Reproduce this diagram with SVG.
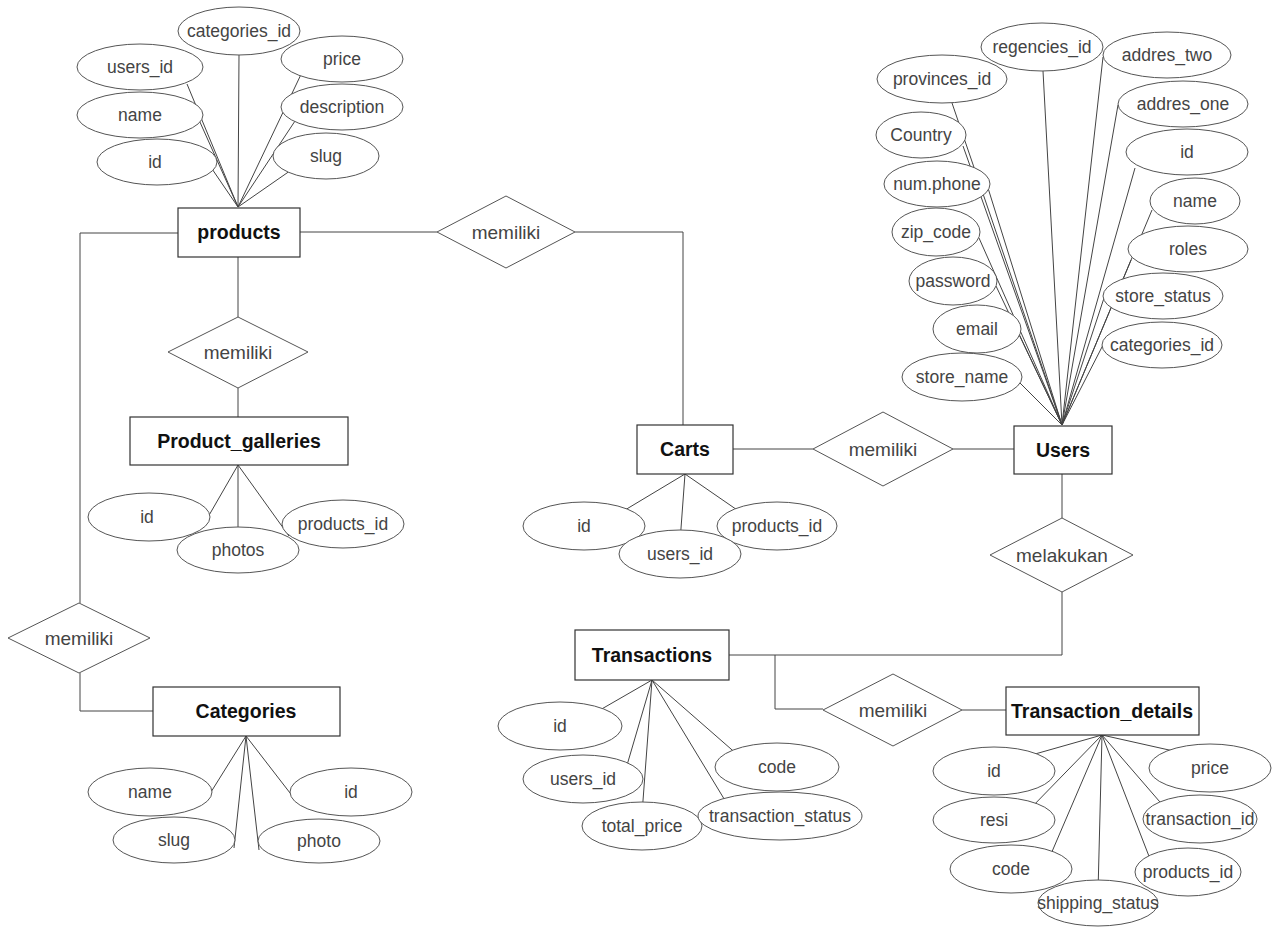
<svg xmlns="http://www.w3.org/2000/svg" width="1274" height="927" viewBox="0 0 1274 927">
<style>
.ent rect{fill:#fff;stroke:#333;stroke-width:1.2}
.ent text{font-family:"Liberation Sans",Arial,sans-serif;font-size:19.5px;font-weight:bold;fill:#111;text-anchor:middle}
.rel polygon{fill:#fff;stroke:#555;stroke-width:1}
.rel text{font-family:"Liberation Sans",Arial,sans-serif;font-size:19px;fill:#444;text-anchor:middle}
.att ellipse{fill:#fff;stroke:#555;stroke-width:1}
.att text{font-family:"Liberation Sans",Arial,sans-serif;font-size:17.5px;fill:#444;text-anchor:middle}
#connectors path,#connectors line{fill:none;stroke:#444;stroke-width:1}
</style>
<rect width="1274" height="927" fill="#fff"/>
<g id="connectors">
<path d="M178,233 H80 V603"/>
<path d="M80,673 V711 H153"/>
<path d="M300,232 H437"/>
<path d="M575,232 H683 V425"/>
<path d="M238,257 V317"/>
<path d="M238,388 V417"/>
<path d="M733,449 H813"/>
<path d="M953,449 H1014"/>
<path d="M1062,474 V518"/>
<path d="M1062,592 V655 H729"/>
<path d="M775,655 V709 H823"/>
<path d="M962,710 H1006"/>
<line x1="239" y1="55" x2="238" y2="207"/>
<line x1="187" y1="84" x2="238" y2="207"/>
<line x1="195" y1="111" x2="238" y2="207"/>
<line x1="208" y1="163" x2="238" y2="207"/>
<line x1="305" y1="66" x2="238" y2="207"/>
<line x1="297" y1="118" x2="238" y2="207"/>
<line x1="297" y1="166" x2="238" y2="207"/>
<line x1="1043" y1="71" x2="1062" y2="425"/>
<line x1="1103" y1="57" x2="1062" y2="425"/>
<line x1="1118" y1="105" x2="1062" y2="425"/>
<line x1="1135" y1="168" x2="1062" y2="425"/>
<line x1="1152" y1="210" x2="1062" y2="425"/>
<line x1="1131" y1="260" x2="1062" y2="425"/>
<line x1="1104" y1="298" x2="1062" y2="425"/>
<line x1="1103" y1="345" x2="1062" y2="425"/>
<line x1="952" y1="103" x2="1062" y2="425"/>
<line x1="963" y1="146" x2="1062" y2="425"/>
<line x1="988" y1="188" x2="1062" y2="425"/>
<line x1="979" y1="238" x2="1062" y2="425"/>
<line x1="996" y1="286" x2="1062" y2="425"/>
<line x1="1019" y1="334" x2="1062" y2="425"/>
<line x1="1019" y1="382" x2="1062" y2="425"/>
<line x1="238" y1="465" x2="204" y2="524"/>
<line x1="238" y1="465" x2="238" y2="539"/>
<line x1="238" y1="465" x2="289" y2="536"/>
<line x1="246" y1="736" x2="206" y2="800"/>
<line x1="246" y1="736" x2="234" y2="848"/>
<line x1="246" y1="736" x2="259" y2="850"/>
<line x1="246" y1="736" x2="297" y2="802"/>
<line x1="685" y1="474" x2="620" y2="513"/>
<line x1="685" y1="474" x2="680" y2="542"/>
<line x1="685" y1="474" x2="743" y2="514"/>
<line x1="652" y1="680" x2="593" y2="714"/>
<line x1="652" y1="680" x2="625" y2="772"/>
<line x1="652" y1="680" x2="642" y2="814"/>
<line x1="652" y1="680" x2="729" y2="807"/>
<line x1="652" y1="680" x2="739" y2="756"/>
<line x1="1102" y1="735" x2="1028" y2="756"/>
<line x1="1102" y1="735" x2="1029" y2="810"/>
<line x1="1102" y1="735" x2="1048" y2="861"/>
<line x1="1102" y1="735" x2="1098" y2="892"/>
<line x1="1102" y1="735" x2="1152" y2="864"/>
<line x1="1102" y1="735" x2="1166" y2="809"/>
<line x1="1102" y1="735" x2="1178" y2="752"/>
</g>
<g id="products" class="ent"><rect x="178" y="208" width="122" height="49"/><text x="239" y="239">products</text></g>
<g id="product_galleries" class="ent"><rect x="130" y="417" width="218" height="48"/><text x="239" y="448">Product_galleries</text></g>
<g id="categories" class="ent"><rect x="153" y="687" width="187" height="49"/><text x="246" y="718">Categories</text></g>
<g id="carts" class="ent"><rect x="637" y="425" width="96" height="49"/><text x="685" y="456">Carts</text></g>
<g id="users" class="ent"><rect x="1014" y="426" width="98" height="48"/><text x="1063" y="457">Users</text></g>
<g id="transactions" class="ent"><rect x="575" y="630" width="154" height="50"/><text x="652" y="662">Transactions</text></g>
<g id="transaction_details" class="ent"><rect x="1006" y="687" width="193" height="48"/><text x="1102" y="718">Transaction_details</text></g>
<g id="rel_products_carts" class="rel"><polygon points="437,232 506,196 575,232 506,268"/><text x="506" y="239">memiliki</text></g>
<g id="rel_products_galleries" class="rel"><polygon points="168,352 238,317 308,352 238,388"/><text x="238" y="359">memiliki</text></g>
<g id="rel_products_categories" class="rel"><polygon points="8,638 79,603 150,638 79,673"/><text x="79" y="645">memiliki</text></g>
<g id="rel_carts_users" class="rel"><polygon points="813,449 883,412 953,449 883,486"/><text x="883" y="456">memiliki</text></g>
<g id="rel_users_transactions" class="rel"><polygon points="990,555 1062,518 1133,555 1062,592"/><text x="1062" y="562">melakukan</text></g>
<g id="rel_transactions_details" class="rel"><polygon points="823,710 893,674 962,710 893,746"/><text x="893" y="717">memiliki</text></g>
<g id="p_categories_id" class="att"><ellipse cx="239" cy="31" rx="61" ry="24"/><text x="239" y="37">categories_id</text></g>
<g id="p_users_id" class="att"><ellipse cx="140" cy="67" rx="63" ry="23"/><text x="140" y="73">users_id</text></g>
<g id="p_name" class="att"><ellipse cx="140" cy="115" rx="63" ry="23"/><text x="140" y="121">name</text></g>
<g id="p_id" class="att"><ellipse cx="157" cy="162" rx="60" ry="23"/><text x="155" y="168">id</text></g>
<g id="p_price" class="att"><ellipse cx="342" cy="59" rx="61" ry="23"/><text x="342" y="65">price</text></g>
<g id="p_description" class="att"><ellipse cx="342" cy="107" rx="61" ry="23"/><text x="342" y="113">description</text></g>
<g id="p_slug" class="att"><ellipse cx="326" cy="156" rx="53" ry="23"/><text x="326" y="162">slug</text></g>
<g id="u_regencies_id" class="att"><ellipse cx="1042" cy="47" rx="61" ry="24"/><text x="1042" y="53">regencies_id</text></g>
<g id="u_addres_two" class="att"><ellipse cx="1167" cy="55" rx="64" ry="23"/><text x="1167" y="61">addres_two</text></g>
<g id="u_provinces_id" class="att"><ellipse cx="942" cy="79" rx="65" ry="24"/><text x="942" y="85">provinces_id</text></g>
<g id="u_addres_one" class="att"><ellipse cx="1183" cy="104" rx="65" ry="23"/><text x="1183" y="110">addres_one</text></g>
<g id="u_country" class="att"><ellipse cx="921" cy="135" rx="45" ry="23"/><text x="921" y="141">Country</text></g>
<g id="u_id" class="att"><ellipse cx="1187" cy="152" rx="61" ry="23"/><text x="1187" y="158">id</text></g>
<g id="u_num_phone" class="att"><ellipse cx="937" cy="184" rx="53" ry="23"/><text x="937" y="190">num.phone</text></g>
<g id="u_name" class="att"><ellipse cx="1195" cy="201" rx="45" ry="23"/><text x="1195" y="207">name</text></g>
<g id="u_zip_code" class="att"><ellipse cx="936" cy="232" rx="44" ry="24"/><text x="936" y="238">zip_code</text></g>
<g id="u_roles" class="att"><ellipse cx="1188" cy="249" rx="60" ry="23"/><text x="1188" y="255">roles</text></g>
<g id="u_password" class="att"><ellipse cx="953" cy="281" rx="44" ry="24"/><text x="953" y="287">password</text></g>
<g id="u_store_status" class="att"><ellipse cx="1163" cy="296" rx="60" ry="23"/><text x="1163" y="302">store_status</text></g>
<g id="u_email" class="att"><ellipse cx="977" cy="329" rx="44" ry="24"/><text x="977" y="335">email</text></g>
<g id="u_categories_id" class="att"><ellipse cx="1162" cy="345" rx="60" ry="23"/><text x="1162" y="351">categories_id</text></g>
<g id="u_store_name" class="att"><ellipse cx="962" cy="377" rx="60" ry="24"/><text x="962" y="383">store_name</text></g>
<g id="g_id" class="att"><ellipse cx="149" cy="517" rx="61" ry="24"/><text x="147" y="523">id</text></g>
<g id="g_products_id" class="att"><ellipse cx="343" cy="524" rx="61" ry="24"/><text x="343" y="530">products_id</text></g>
<g id="g_photos" class="att"><ellipse cx="238" cy="550" rx="61" ry="23"/><text x="238" y="556">photos</text></g>
<g id="c_name" class="att"><ellipse cx="150" cy="792" rx="62" ry="24"/><text x="150" y="798">name</text></g>
<g id="c_slug" class="att"><ellipse cx="174" cy="840" rx="61" ry="23"/><text x="174" y="846">slug</text></g>
<g id="c_id" class="att"><ellipse cx="351" cy="792" rx="61" ry="24"/><text x="351" y="798">id</text></g>
<g id="c_photo" class="att"><ellipse cx="319" cy="841" rx="61" ry="22"/><text x="319" y="847">photo</text></g>
<g id="ca_id" class="att"><ellipse cx="584" cy="526" rx="61" ry="24"/><text x="584" y="532">id</text></g>
<g id="ca_products_id" class="att"><ellipse cx="777" cy="526" rx="60" ry="24"/><text x="777" y="532">products_id</text></g>
<g id="ca_users_id" class="att"><ellipse cx="680" cy="554" rx="61" ry="24"/><text x="680" y="560">users_id</text></g>
<g id="t_id" class="att"><ellipse cx="560" cy="726" rx="62" ry="24"/><text x="560" y="732">id</text></g>
<g id="t_users_id" class="att"><ellipse cx="583" cy="779" rx="60" ry="24"/><text x="583" y="785">users_id</text></g>
<g id="t_total_price" class="att"><ellipse cx="642" cy="826" rx="60" ry="24"/><text x="642" y="832">total_price</text></g>
<g id="t_code" class="att"><ellipse cx="777" cy="767" rx="62" ry="24"/><text x="777" y="773">code</text></g>
<g id="t_transaction_status" class="att"><ellipse cx="780" cy="816" rx="82" ry="24"/><text x="780" y="822">transaction_status</text></g>
<g id="d_id" class="att"><ellipse cx="994" cy="771" rx="61" ry="24"/><text x="994" y="777">id</text></g>
<g id="d_resi" class="att"><ellipse cx="994" cy="820" rx="61" ry="23"/><text x="994" y="826">resi</text></g>
<g id="d_code" class="att"><ellipse cx="1011" cy="869" rx="61" ry="24"/><text x="1011" y="875">code</text></g>
<g id="d_shipping_status" class="att"><ellipse cx="1098" cy="903" rx="60" ry="23"/><text x="1098" y="909">shipping_status</text></g>
<g id="d_price" class="att"><ellipse cx="1210" cy="768" rx="61" ry="24"/><text x="1210" y="774">price</text></g>
<g id="d_transaction_id" class="att"><ellipse cx="1200" cy="819" rx="57" ry="24"/><text x="1200" y="825">transaction_id</text></g>
<g id="d_products_id" class="att"><ellipse cx="1188" cy="872" rx="53" ry="24"/><text x="1188" y="878">products_id</text></g>
</svg>
